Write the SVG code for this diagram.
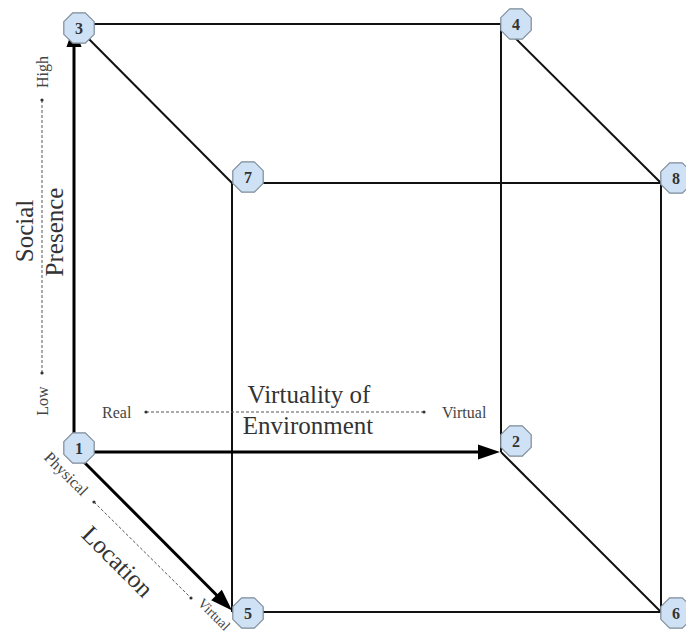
<svg xmlns="http://www.w3.org/2000/svg" width="686" height="637" viewBox="0 0 686 637">
<style>
.edge{stroke:#111;stroke-width:2;fill:none}
.arrow{stroke:#000;stroke-width:3;fill:none}
.axis{stroke:#555;stroke-width:1;stroke-dasharray:3 2;fill:none}
.dot{fill:#333}
.oct{fill:#cfe2f5;stroke:#7d8a98;stroke-width:1.2}
.num{font-family:"Liberation Serif",serif;font-weight:bold;font-size:16px;fill:#333;text-anchor:middle}
.big{font-family:"Liberation Serif",serif;font-size:25px;fill:#333}
.small{font-family:"Liberation Serif",serif;font-size:16px;fill:#444}
</style>
<defs>
<marker id="ah" markerUnits="userSpaceOnUse" markerWidth="24" markerHeight="16" viewBox="0 0 22 16" refX="12" refY="8" orient="auto">
<path d="M0,0.5 L22,8 L0,15.5 z" fill="#000"/>
</marker>
<polygon id="octo" points="6.3,-15.2 15.2,-6.3 15.2,6.3 6.3,15.2 -6.3,15.2 -15.2,6.3 -15.2,-6.3 -6.3,-15.2"/>
</defs>
<rect width="686" height="637" fill="#fff"/>
<g id="connectors">
<line class="edge" x1="74" y1="24" x2="501" y2="24"/>
<line class="edge" x1="74" y1="24" x2="232" y2="183"/>
<line class="edge" x1="501" y1="24" x2="661" y2="183"/>
<line class="edge" x1="232" y1="183" x2="661" y2="183"/>
<line class="edge" x1="501" y1="24" x2="501" y2="452"/>
<line class="edge" x1="661" y1="183" x2="661" y2="612"/>
<line class="edge" x1="232" y1="183" x2="232" y2="612"/>
<line class="edge" x1="232" y1="612" x2="661" y2="612"/>
<line class="edge" x1="501" y1="452" x2="661" y2="612"/>
<line class="arrow" x1="74" y1="452" x2="74" y2="35" marker-end="url(#ah)"/>
<line class="arrow" x1="74" y1="452" x2="490" y2="452" marker-end="url(#ah)"/>
<line class="arrow" x1="74" y1="452" x2="225" y2="603.5" marker-end="url(#ah)"/>
</g>
<g id="axes">
<line class="axis" x1="42" y1="100" x2="42" y2="373"/>
<circle class="dot" cx="42" cy="100" r="1.6"/>
<circle class="dot" cx="42" cy="373" r="1.6"/>
<line class="axis" x1="146" y1="412" x2="424" y2="412"/>
<circle class="dot" cx="146" cy="412" r="1.6"/>
<circle class="dot" cx="424" cy="412" r="1.6"/>
<line class="axis" x1="94" y1="502" x2="191" y2="598"/>
<circle class="dot" cx="94" cy="502" r="1.6"/>
<circle class="dot" cx="191" cy="598" r="1.6"/>
</g>
<g id="labels">
<text class="small" text-anchor="middle" transform="translate(48,72) rotate(-90)">High</text>
<text class="small" text-anchor="middle" transform="translate(48,401) rotate(-90)">Low</text>
<text class="big" text-anchor="middle" transform="translate(33,231) rotate(-90)">Social</text>
<text class="big" text-anchor="middle" transform="translate(63,232) rotate(-90)">Presence</text>
<text class="small" x="102" y="418">Real</text>
<text class="small" x="442" y="418">Virtual</text>
<text class="big" x="309" y="403" text-anchor="middle">Virtuality of</text>
<text class="big" x="308" y="434" text-anchor="middle">Environment</text>
<text class="small" text-anchor="middle" transform="translate(66,474) rotate(45)" y="5">Physical</text>
<text class="big" text-anchor="middle" transform="translate(118,561) rotate(45)" y="9">Location</text>
<text class="small" style="font-size:14px" transform="translate(197,604) rotate(45)">Virtual</text>
</g>
<g id="node1"><use href="#octo" class="oct" x="79" y="448"/><text class="num" x="79" y="454">1</text></g>
<g id="node2"><use href="#octo" class="oct" x="516" y="441"/><text class="num" x="516" y="447">2</text></g>
<g id="node3"><use href="#octo" class="oct" x="79" y="28"/><text class="num" x="79" y="34">3</text></g>
<g id="node4"><use href="#octo" class="oct" x="516" y="24"/><text class="num" x="516" y="30">4</text></g>
<g id="node5"><use href="#octo" class="oct" x="248" y="613"/><text class="num" x="248" y="619">5</text></g>
<g id="node6"><use href="#octo" class="oct" x="676" y="613"/><text class="num" x="676" y="619">6</text></g>
<g id="node7"><use href="#octo" class="oct" x="248" y="177"/><text class="num" x="248" y="183">7</text></g>
<g id="node8"><use href="#octo" class="oct" x="676" y="178"/><text class="num" x="676" y="184">8</text></g>
</svg>
